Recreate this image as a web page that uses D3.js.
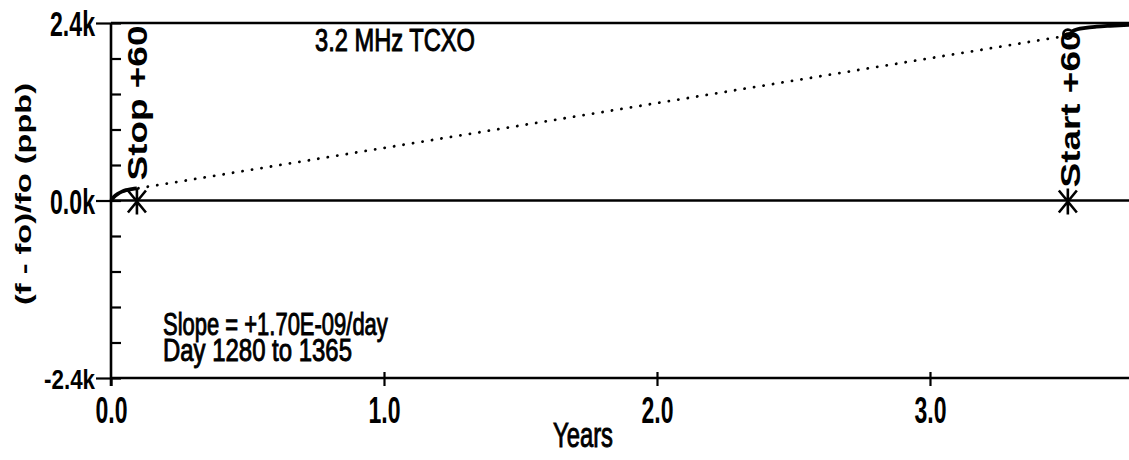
<!DOCTYPE html>
<html>
<head>
<meta charset="utf-8">
<script src="https://cdn.jsdelivr.net/npm/d3@7"></script>
<style>
  html, body { margin: 0; padding: 0; background: #fff; }
  svg { display: block; }
  text { fill: #000; font-family: "Liberation Sans", Arial, sans-serif; }
</style>
</head>
<body>
<svg id="chart" width="1129" height="460"></svg>
<script>
// ---- data ----
const yTickValues = [-2400, 0, 2400];
const yTickLabels = ["-2.4k", "0.0k", "2.4k"];
const yMinorTicks = [-2400, -1920, -1440, -960, -480, 0, 480, 960, 1440, 1920, 2400];
const xTickValues = [0, 1, 2, 3];
const xTickLabels = ["0.0", "1.0", "2.0", "3.0"];
const refLines = [2400, 0, -2400];

const stopYears  = [0, 0.01, 0.025, 0.04, 0.055, 0.07, 0.085, 0.095];
const stopValues = [0, 45, 90, 120, 140, 152, 160, 165];
const startYears  = [3.505, 3.52, 3.54, 3.57, 3.61, 3.66, 3.729];
const startValues = [2250, 2285, 2315, 2335, 2350, 2362, 2375];
const gapYears  = [0.1, 3.48];
const gapValues = [165, 2215];

const markerYears  = [0.095, 3.505];
const markerValues = [0, 0];
const markerLabels = ["Stop +60", "Start +60"];

const titleText = "3.2 MHz TCXO";
const noteLines = ["Slope =  +1.70E-09/day", "Day 1280 to 1365"];
const xTitle = "Years";
const yTitle = "(f - fo)/fo (ppb)";

// ---- helpers: squeeze/stretch a text horizontally to a width ----
function fitWidth(node, width, pre) {
  const natural = node.getComputedTextLength();
  const k = width / natural;
  const ax = +node.getAttribute("x") || 0;
  node.setAttribute("transform",
    (pre ? pre + " " : "") + `translate(${ax},0) scale(${k},1) translate(${-ax},0)`);
}

// ---- scales ----
const svg = d3.select("#chart");
const x = d3.scaleLinear().domain([0, 3.729]).range([111, 1129]);
const y = d3.scaleLinear().domain([-2400, 2400]).range([378, 23]);

// reference horizontal lines
svg.selectAll("line.ref").data(refLines).enter().append("line")
  .attr("x1", x(0)).attr("x2", x(3.729))
  .attr("y1", d => y(d)).attr("y2", d => y(d))
  .attr("stroke", "#000").attr("stroke-width", 2.4);

// y axis (labelled outer ticks)
const yAxis = d3.axisLeft(y).tickValues(yTickValues)
  .tickFormat((d, i) => yTickLabels[i]).tickSize(15).tickPadding(1);
const gy = svg.append("g").attr("transform", `translate(${x(0)},0)`).call(yAxis);
gy.attr("font-size", null).attr("font-family", null);
gy.select(".domain").attr("stroke", "#000").attr("stroke-width", 2.6)
  .attr("d", `M0,${y(2400)}V${y(-2400) + 8}`);
gy.selectAll(".tick line").attr("stroke", "#000").attr("stroke-width", 2.2);
gy.selectAll(".tick text")
  .style("font-size", (d) => d < 0 ? "28px" : "35px")
  .style("font-weight", "bold")
  .attr("dy", "0.36em")
  .each(function(d) { fitWidth(this, d < 0 ? 51 : 45); });

// y minor inner ticks
const yMinor = d3.axisRight(y).tickValues(yMinorTicks).tickSize(10).tickFormat("");
const gym = svg.append("g").attr("transform", `translate(${x(0)},0)`).call(yMinor);
gym.select(".domain").remove();
gym.selectAll(".tick line").attr("stroke", "#000").attr("stroke-width", 2.2);

// x axis
const xAxis = d3.axisBottom(x).tickValues(xTickValues)
  .tickFormat((d, i) => xTickLabels[i]).tickSize(8).tickPadding(11);
const gx = svg.append("g").attr("transform", `translate(0,${y(-2400)})`).call(xAxis);
gx.attr("font-size", null).attr("font-family", null);
gx.select(".domain").remove();
gx.selectAll(".tick line").attr("stroke", "#000").attr("stroke-width", 2.2)
  .attr("y1", d => d === 0 ? 0 : -6);
gx.selectAll(".tick text")
  .style("font-size", "37px").style("font-weight", "bold")
  .each(function() { fitWidth(this, 32); });

// data curves
const line = d3.line().x(d => x(d[0])).y(d => y(d[1])).curve(d3.curveMonotoneX);
svg.append("path").datum(d3.zip(stopYears, stopValues))
  .attr("d", line).attr("fill", "none").attr("stroke", "#000").attr("stroke-width", 3.8);
svg.append("path").datum(d3.zip(startYears, startValues))
  .attr("d", line).attr("fill", "none").attr("stroke", "#000").attr("stroke-width", 3.8);
svg.append("path").datum(d3.zip(gapYears, gapValues))
  .attr("d", d3.line().x(d => x(d[0])).y(d => y(d[1])))
  .attr("fill", "none").attr("stroke", "#000").attr("stroke-width", 2.8)
  .attr("stroke-dasharray", "0.1,9.5").attr("stroke-linecap", "round");
svg.append("circle")
  .attr("cx", x(startYears[0])).attr("cy", y(startValues[0]))
  .attr("r", 4.5).attr("fill", "#fff").attr("stroke", "#000").attr("stroke-width", 2.6);

// asterisk markers
const star = (cx, cy) => {
  const h = 13, dx = 9, dy = 11;
  return `M${cx},${cy - h}V${cy + h}M${cx - dx},${cy - dy}L${cx + dx},${cy + dy}M${cx - dx},${cy + dy}L${cx + dx},${cy - dy}`;
};
const markers = d3.zip(markerYears, markerValues, markerLabels);
svg.selectAll("path.star").data(markers).enter().append("path")
  .attr("d", d => star(x(d[0]), y(d[1]) + 1))
  .attr("stroke", "#000").attr("stroke-width", 2.6).attr("fill", "none");

// vertical marker labels
svg.selectAll("text.mlabel").data(markers).enter().append("text")
  .style("font-size", "27px").style("font-weight", "bold")
  .text(d => d[2])
  .each(function(d, i) {
    fitWidth(this, i === 0 ? 155 : 157,
      `translate(${x(d[0]) + (i === 0 ? 10 : 12)},${y(d[1]) - (i === 0 ? 20 : 13)}) rotate(-90)`);
  });

// title
svg.append("text").attr("x", 315).attr("y", 51)
  .style("font-size", "32px")
  .attr("stroke", "#000").attr("stroke-width", 1)
  .text(titleText)
  .each(function() { fitWidth(this, 160); });

// notes
svg.selectAll("text.note").data(noteLines).enter().append("text")
  .attr("x", 163).attr("y", (d, i) => 335 + i * 26)
  .style("font-size", "32px")
  .attr("stroke", "#000").attr("stroke-width", 1)
  .text(d => d)
  .each(function(d, i) { fitWidth(this, i === 0 ? 225 : 189); });

// axis titles
svg.append("text").attr("x", 553).attr("y", 447)
  .style("font-size", "36px")
  .attr("stroke", "#000").attr("stroke-width", 1)
  .text(xTitle)
  .each(function() { fitWidth(this, 60); });

svg.append("text")
  .attr("text-anchor", "middle")
  .style("font-size", "22px").style("font-weight", "bold")
  .text(yTitle)
  .each(function() { fitWidth(this, 222, "translate(31,194) rotate(-90)"); });
</script>
</body>
</html>
